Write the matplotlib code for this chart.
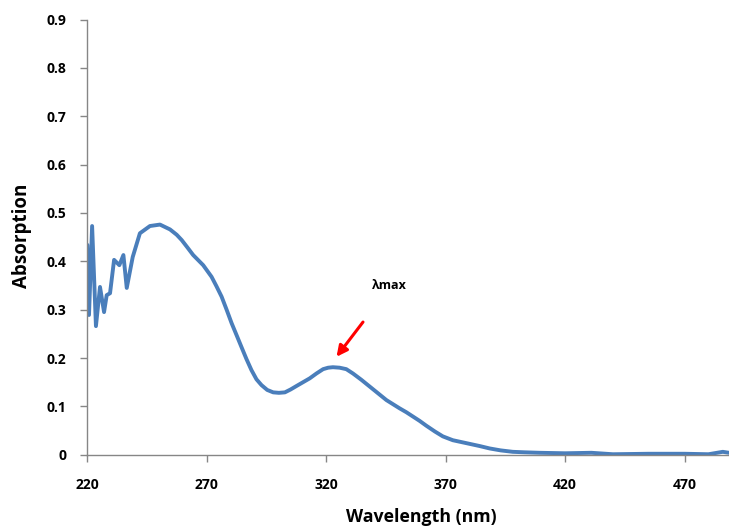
import numpy as np
import matplotlib.pyplot as plt

# spectrum
wavelength = [220.0, 220.7, 222.0, 223.6, 225.3, 227.0, 228.1, 229.5, 231.2, 233.4,
              235.1, 236.5, 239.0, 242.0, 246.2, 250.4, 254.6, 257.4, 259.5, 262.0,
              264.3, 268.5, 272.0, 274.0, 276.2, 278.3, 280.4, 282.5, 284.5, 286.6,
              288.7, 290.8, 292.9, 295.3, 297.8, 300.2, 302.7, 305.1, 307.5, 310.3,
              313.1, 315.9, 318.7, 320.8, 322.8, 325.6, 328.4, 331.2, 334.7, 338.2,
              341.7, 345.2, 350.7, 353.5, 359.1, 361.9, 365.5, 368.8, 373.0, 378.6,
              384.2, 388.4, 393.0, 398.1, 403.0, 409.3, 420.0, 431.0, 440.0, 455.0,
              470.0, 480.0, 486.0, 488.6]
absorption = [0.434, 0.289, 0.473, 0.266, 0.347, 0.295, 0.330, 0.334, 0.403, 0.392,
              0.413, 0.345, 0.409, 0.458, 0.473, 0.476, 0.466, 0.455, 0.444, 0.428,
              0.413, 0.392, 0.368, 0.349, 0.327, 0.300, 0.272, 0.247, 0.223, 0.198,
              0.175, 0.156, 0.144, 0.134, 0.129, 0.128, 0.129, 0.135, 0.142, 0.150,
              0.158, 0.168, 0.177, 0.180, 0.181, 0.180, 0.177, 0.168, 0.155, 0.141,
              0.127, 0.113, 0.096, 0.088, 0.070, 0.060, 0.048, 0.038, 0.030, 0.024,
              0.018, 0.013, 0.009, 0.006, 0.005, 0.004, 0.003, 0.004, 0.001, 0.002,
              0.002, 0.001, 0.006, 0.004]

xticks = [220, 270, 320, 370, 420, 470]
yticks = [0, 0.1, 0.2, 0.3, 0.4, 0.5, 0.6, 0.7, 0.8, 0.9]
ytick_labels = ['0', '0.1', '0.2', '0.3', '0.4', '0.5', '0.6', '0.7', '0.8', '0.9']

plt.rcParams['font.family'] = ['Open Sans', 'DejaVu Sans']

fig = plt.figure(figsize=(7.29, 5.29), dpi=100)
ax = fig.add_axes([0.1198, 0.1404, 0.8802, 0.8226])

ax.plot(wavelength, absorption, color='#4a7ebb', lw=2.8,
        solid_joinstyle='round', solid_capstyle='round')

ax.set_xlim(220, 488.6)
ax.set_ylim(0, 0.9)
ax.set_xticks(xticks)
ax.set_xticklabels([str(t) for t in xticks], fontsize=10, fontweight='bold')
ax.set_yticks(yticks)
ax.set_yticklabels(ytick_labels, fontsize=10, fontweight='bold')

for s in ['top', 'right']:
    ax.spines[s].set_visible(False)
for s in ['left', 'bottom']:
    ax.spines[s].set_color('#868686')
    ax.spines[s].set_linewidth(1.0)
ax.tick_params(colors='#868686', labelcolor='black', length=5, width=1.0, direction='out')
ax.tick_params(axis='x', pad=12)
ax.tick_params(axis='y', pad=10)

# axis titles placed where the reference has them
fig.text(421.7 / 729, 1 - 516.7 / 529, 'Wavelength (nm)', fontsize=12.8,
         fontweight='bold', ha='center', va='center')
fig.text(22 / 729, 1 - 235.6 / 529, 'Absorption', fontsize=13.5,
         fontweight='bold', ha='center', va='center', rotation=90)

ax.annotate('', xy=(323.6, 0.198), xytext=(336.1, 0.279),
            arrowprops=dict(arrowstyle='-|>', color='red', lw=2.2, mutation_scale=16))
ax.text(346.5, 0.351, 'λmax', fontsize=9, fontweight='bold', ha='center', va='center')

fig.savefig('out.png', dpi=100)
